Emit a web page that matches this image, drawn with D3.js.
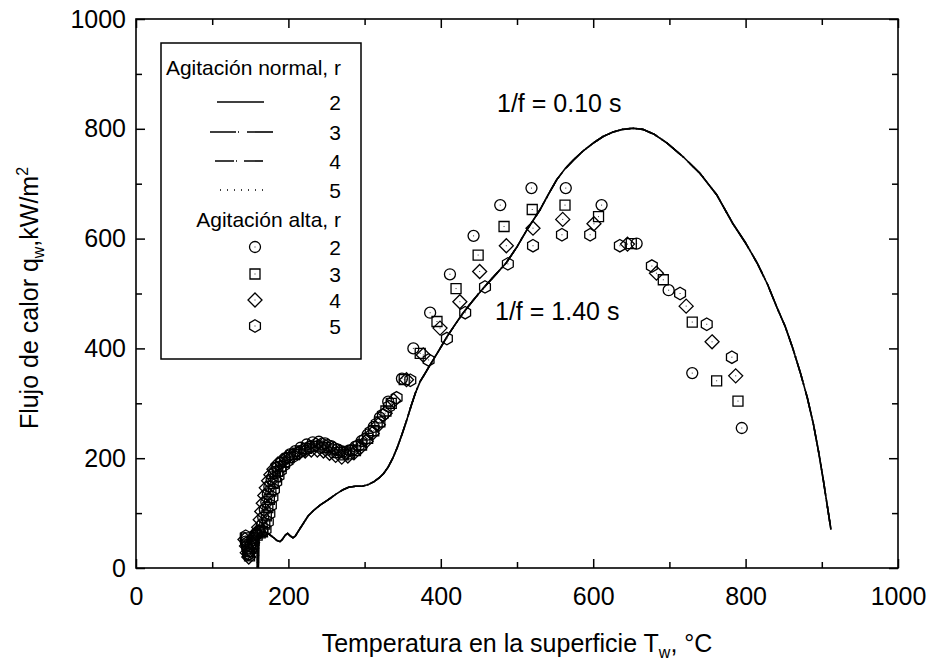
<!DOCTYPE html>
<html>
<head>
<meta charset="utf-8">
<script src="https://cdn.jsdelivr.net/npm/d3@7"></script>
<style>
  body { margin: 0; background: #fff; }
  text { font-family: "Liberation Sans", Arial, sans-serif; fill: #000; }
</style>
</head>
<body>
<div id="chart"></div>
<script>
var svgWidth = 929;
var svgHeight = 662;

var margin = { top: 19, right: 31, bottom: 94, left: 136 };
var chartWidth = svgWidth - margin.left - margin.right;
var chartHeight = svgHeight - margin.top - margin.bottom;

// axis ticks
var majorTicks = [0, 200, 400, 600, 800, 1000];
var minorTicks = [100, 300, 500, 700, 900];

// Agitacion normal: the four lines lie on top of each other
var normalCurve = [
  [148, 42], [152, 52], [156, 58], [159, 62], [159.5, 0], [160, 60], [160.5, 0], [161, 62],
  [164, 66], [169, 66], [174, 62], [180, 56], [185, 50], [189, 48], [192, 52], [196, 60],
  [199, 63], [202, 59], [206, 55], [209, 58], [213, 67], [219, 80], [226, 95], [234, 106],
  [242, 115], [252, 124], [262, 134], [271, 142], [279, 147], [288, 149], [297, 149],
  [305, 152], [312, 157], [319, 164], [325, 172], [331, 184], [337, 200], [343, 220],
  [349, 243], [355, 268], [361, 295], [367, 320], [373, 340], [380, 356], [386, 370],
  [397, 395], [408, 421], [418, 442], [429, 464], [442, 487], [456, 510], [471, 533],
  [486, 556], [500, 585], [513, 616], [522, 635], [530, 652], [541, 680], [552, 707],
  [563, 727], [574, 743], [587, 760], [600, 774], [613, 786], [626, 794], [639, 799],
  [652, 801], [665, 799], [680, 790], [697, 774], [718, 749], [740, 719], [762, 680],
  [783, 628], [800, 592], [815, 556], [829, 516], [841, 475], [852, 440], [862, 400],
  [872, 355], [881, 310], [889, 262], [896, 210], [902, 160], [907, 115], [912, 70]
];

// Agitacion alta, r = 2..5
var altaR2 = [
  [144, 48], [146, 35], [147, 24], [149, 30], [151, 44], [154, 55], [158, 62], [162, 68],
  [165, 78], [167, 92], [169, 106], [171, 120], [173, 134], [175, 148], [178, 161], [181, 172],
  [185, 182], [190, 191], [196, 199], [202, 207], [209, 213], [216, 219], [224, 225], [232, 229],
  [240, 230], [248, 227], [256, 222], [264, 216], [272, 212], [280, 214], [288, 221], [296, 231],
  [304, 243], [312, 257], [320, 274], [331, 303], [349, 345], [364, 400], [386, 465], [412, 535],
  [443, 605], [478, 661], [519, 692], [564, 692], [611, 661], [657, 591], [699, 506], [730, 355],
  [795, 255]
];
var altaR3 = [
  [145, 55], [146, 42], [147, 30], [149, 22], [151, 36], [155, 50], [159, 60], [163, 64],
  [166, 66], [169, 80], [171, 95], [173, 110], [175, 125], [177, 140], [180, 154], [183, 166],
  [186, 176], [190, 185], [195, 193], [201, 201], [208, 207], [216, 213], [224, 218], [232, 221],
  [240, 222], [248, 219], [256, 215], [264, 210], [272, 206], [280, 208], [288, 214], [296, 224],
  [304, 236], [312, 250], [320, 266], [328, 286], [335, 300], [352, 343], [373, 391], [395, 449],
  [420, 509], [449, 570], [483, 622], [520, 653], [563, 661], [607, 640], [650, 591], [692, 525],
  [730, 448], [762, 341], [790, 304]
];
var altaR4 = [
  [143, 52], [145, 40], [146, 28], [148, 20], [150, 32], [153, 46], [156, 58], [158, 64],
  [161, 74], [163, 88], [165, 103], [167, 118], [169, 132], [171, 146], [174, 159], [177, 170],
  [181, 180], [186, 189], [192, 196], [199, 202], [206, 206], [214, 210], [222, 213], [230, 215],
  [238, 215], [246, 213], [254, 209], [262, 205], [270, 202], [278, 204], [286, 210], [294, 219],
  [302, 231], [310, 245], [318, 261], [327, 282], [338, 305], [355, 343], [377, 388], [399, 437],
  [425, 485], [451, 540], [486, 587], [521, 619], [560, 635], [601, 627], [645, 590], [683, 537],
  [722, 477], [756, 412], [787, 350]
];
var altaR5 = [
  [144, 58], [145, 45], [147, 33], [148, 26], [150, 40], [153, 52], [157, 60], [161, 66],
  [166, 68], [170, 70], [173, 84], [175, 99], [177, 114], [179, 129], [181, 143], [184, 157],
  [187, 168], [190, 178], [194, 187], [199, 195], [205, 202], [212, 209], [220, 215], [228, 221],
  [236, 225], [244, 226], [252, 223], [260, 218], [268, 213], [276, 211], [284, 215], [292, 223],
  [300, 234], [308, 248], [316, 263], [324, 279], [332, 294], [342, 310], [360, 342], [384, 379],
  [408, 418], [432, 465], [458, 512], [488, 554], [521, 587], [559, 607], [596, 607], [635, 587],
  [677, 550], [714, 500], [749, 444], [782, 384]
];

var lineSeries = [
  { r: "2", dash: null },
  { r: "3", dash: "26,2,1,8" },
  { r: "4", dash: "19,2,1,7" },
  { r: "5", dash: "1,6" }
];
var markerSeries = [
  { r: "2", shape: "circle", data: altaR2 },
  { r: "3", shape: "square", data: altaR3 },
  { r: "4", shape: "diamond", data: altaR4 },
  { r: "5", shape: "hexagon", data: altaR5 }
];

var svg = d3.select("#chart")
  .append("svg")
  .attr("width", svgWidth)
  .attr("height", svgHeight);

var chartGroup = svg.append("g")
  .attr("transform", `translate(${margin.left}, ${margin.top})`);

var xScale = d3.scaleLinear().domain([0, 1000]).range([0, chartWidth]);
var yScale = d3.scaleLinear().domain([0, 1000]).range([chartHeight, 0]);

// ticks point inward on all four sides
function drawAxis(axisFn, scale, ticks, size, labels, transform) {
  var g = chartGroup.append("g")
    .attr("transform", transform)
    .call(axisFn(scale).tickValues(ticks).tickSize(-size).tickPadding(labels ? 11 : 0)
      .tickFormat(labels ? d3.format("d") : ""));
  g.select(".domain").remove();
  g.selectAll("line").attr("stroke", "#000").attr("stroke-width", 1.5);
  return g;
}

var xAxis = drawAxis(d3.axisBottom, xScale, majorTicks, 9, true, `translate(0, ${chartHeight})`);
xAxis.selectAll("text").attr("y", 19).attr("font-size", 25).attr("font-family", null);
drawAxis(d3.axisBottom, xScale, minorTicks, 6, false, `translate(0, ${chartHeight})`);
drawAxis(d3.axisTop, xScale, majorTicks, 9, false, "translate(0, 0)");
drawAxis(d3.axisTop, xScale, minorTicks, 6, false, "translate(0, 0)");

var yAxis = drawAxis(d3.axisLeft, yScale, majorTicks, 9, true, "translate(0, 0)");
yAxis.selectAll("text").attr("font-size", 25).attr("font-family", null).attr("x", -10);
drawAxis(d3.axisLeft, yScale, minorTicks, 6, false, "translate(0, 0)");
drawAxis(d3.axisRight, yScale, majorTicks, 9, false, `translate(${chartWidth}, 0)`);
drawAxis(d3.axisRight, yScale, minorTicks, 6, false, `translate(${chartWidth}, 0)`);

chartGroup.append("rect")
  .attr("width", chartWidth)
  .attr("height", chartHeight)
  .attr("fill", "none")
  .attr("stroke", "#000")
  .attr("stroke-width", 1.6);

// lines
var line = d3.line()
  .x(d => xScale(d[0]))
  .y(d => yScale(d[1]));

lineSeries.forEach(s => {
  chartGroup.append("path")
    .datum(normalCurve)
    .attr("d", line)
    .attr("fill", "none")
    .attr("stroke", "#000")
    .attr("stroke-width", 1.6)
    .attr("stroke-dasharray", s.dash);
});

// marker shapes
function markerPath(shape) {
  switch (shape) {
    case "circle":
      return "M5.5,0A5.5,5.5 0 1,1 -5.5,0A5.5,5.5 0 1,1 5.5,0Z";
    case "square":
      return "M-5,-5H5V5H-5Z";
    case "diamond":
      return "M0,-7L7,0L0,7L-7,0Z";
    case "hexagon":
      return "M0,-6.2L5.4,-3.1L5.4,3.1L0,6.2L-5.4,3.1L-5.4,-3.1Z";
  }
}

function drawMarker(g, shape) {
  g.append("path")
    .attr("d", markerPath(shape))
    .attr("fill", "none")
    .attr("stroke", "#000")
    .attr("stroke-width", 1.3);
  g.append("rect")
    .attr("x", -0.5).attr("y", -0.5)
    .attr("width", 1).attr("height", 1)
    .attr("fill", "#333");
}

markerSeries.forEach(s => {
  chartGroup.append("g")
    .selectAll("g")
    .data(s.data)
    .enter()
    .append("g")
    .attr("transform", d => `translate(${xScale(d[0])}, ${yScale(d[1])})`)
    .each(function() { drawMarker(d3.select(this), s.shape); });
});

// annotations
svg.append("text").attr("x", 497).attr("y", 112).attr("font-size", 25).text("1/f = 0.10 s");
svg.append("text").attr("x", 495).attr("y", 320).attr("font-size", 25).text("1/f = 1.40 s");

// legend
var legend = svg.append("g");
legend.append("rect")
  .attr("x", 161).attr("y", 43)
  .attr("width", 200).attr("height", 316)
  .attr("fill", "#fff")
  .attr("stroke", "#000")
  .attr("stroke-width", 1.5);

legend.append("text").attr("x", 341).attr("y", 75).attr("font-size", 21)
  .attr("text-anchor", "end").text("Agitación normal, r");

var lineRowsY = [102, 132, 161, 190];
var lineRowsX = [[217, 264], [210, 275], [215, 265], [220, 265]];
lineSeries.forEach((s, i) => {
  legend.append("line")
    .attr("x1", lineRowsX[i][0]).attr("x2", lineRowsX[i][1])
    .attr("y1", lineRowsY[i]).attr("y2", lineRowsY[i])
    .attr("stroke", "#000")
    .attr("stroke-width", 1.6)
    .attr("stroke-dasharray", s.dash);
  legend.append("text").attr("x", 341).attr("y", lineRowsY[i] + 8)
    .attr("font-size", 21).attr("text-anchor", "end").text(s.r);
});

legend.append("text").attr("x", 341).attr("y", 227).attr("font-size", 21)
  .attr("text-anchor", "end").text("Agitación alta, r");

var markerRowsY = [247, 274, 300, 326];
markerSeries.forEach((s, i) => {
  drawMarker(legend.append("g").attr("transform", `translate(255, ${markerRowsY[i]})`), s.shape);
  legend.append("text").attr("x", 341).attr("y", markerRowsY[i] + 8)
    .attr("font-size", 21).attr("text-anchor", "end").text(s.r);
});

// axis titles
var xTitle = svg.append("text")
  .attr("x", margin.left + chartWidth / 2)
  .attr("y", 652)
  .attr("font-size", 25)
  .attr("text-anchor", "middle");
xTitle.append("tspan").text("Temperatura en la superficie T");
xTitle.append("tspan").attr("font-size", 16).attr("dy", 6).text("w");
xTitle.append("tspan").attr("dy", -6).text(", °C");

var yTitle = svg.append("text")
  .attr("transform", "translate(38, 298) rotate(-90)")
  .attr("font-size", 25)
  .attr("text-anchor", "middle");
yTitle.append("tspan").text("Flujo de calor q");
yTitle.append("tspan").attr("font-size", 16).attr("dy", 6).text("w");
yTitle.append("tspan").attr("dy", -6).text(",kW/m");
yTitle.append("tspan").attr("font-size", 16).attr("dy", -10).text("2");
</script>
</body>
</html>
